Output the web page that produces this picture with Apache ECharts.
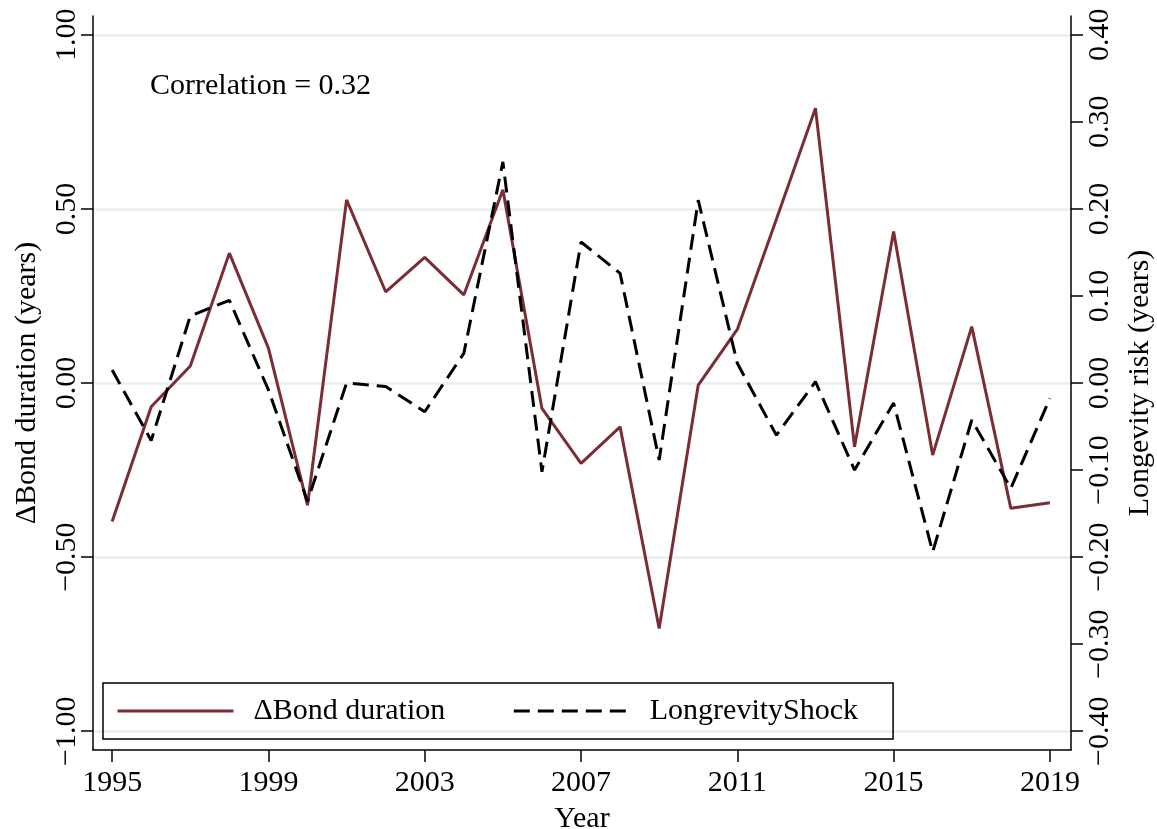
<!DOCTYPE html>
<html lang="en">
<head>
<meta charset="UTF-8">
<title>Bond duration vs longevity shock</title>
<script src="https://cdn.jsdelivr.net/npm/echarts@6/dist/echarts.min.js"></script>
<style>
  html, body { margin: 0; padding: 0; background: #fff; }
  #chart { width: 1157px; height: 829px; }
</style>
</head>
<body>
<div id="chart"></div>
<script>
// values
var years = [1995, 1996, 1997, 1998, 1999, 2000, 2001, 2002, 2003, 2004, 2005, 2006,
             2007, 2008, 2009, 2010, 2011, 2012, 2013, 2014, 2015, 2016, 2017, 2018, 2019];
var bondDuration = [-0.398, -0.068, 0.049, 0.373, 0.10, -0.351, 0.526, 0.262, 0.361, 0.253, 0.555, -0.073,
                    -0.231, -0.126, -0.705, -0.006, 0.154, 0.47, 0.789, -0.183, 0.435, -0.207, 0.162, -0.36, -0.344];
var longevityShock = [0.015, -0.066, 0.077, 0.095, -0.008, -0.136, 0.0, -0.004, -0.033, 0.034, 0.254, -0.102,
                      0.162, 0.126, -0.0885, 0.210, 0.0226, -0.06, 0.0015, -0.10, -0.023, -0.194, -0.0425, -0.121, -0.0176];
var xTicks = [1995, 1999, 2003, 2007, 2011, 2015, 2019];
var leftTicks = [-1, -0.5, 0, 0.5, 1];
var rightTicks = [-0.4, -0.3, -0.2, -0.1, 0, 0.1, 0.2, 0.3, 0.4];

var font = 'Liberation Serif';

function pairs(xs, ys) {
  var res = [];
  for (var i = 0; i < xs.length; i++) res.push([xs[i], ys[i]]);
  return res;
}
function fmt(v) {
  var s = Math.abs(v).toFixed(2);
  return v < -1e-9 ? '\u2212' + s : s;
}

var chart = echarts.init(document.getElementById('chart'));

var option = {
  animation: false,
  title: {
    text: 'Correlation = 0.32',
    left: 150,
    top: 71,
    padding: 0,
    textStyle: { fontFamily: font, fontSize: 30, fontWeight: 'normal', color: '#000' }
  },
  grid: { left: 93, right: 86, top: 16, bottom: 79, outerBoundsMode: 'none', containLabel: false },
  legend: {
    left: 103,
    top: 683,
    padding: [13, 35, 13, 13],
    itemWidth: 116,
    itemHeight: 30,
    itemGap: 67,
    borderColor: '#000',
    borderWidth: 1.5,
    itemStyle: { opacity: 0 },
    lineStyle: { width: 3 },
    textStyle: { fontFamily: font, fontSize: 30, color: '#000', padding: [0, 0, 0, 15] },
    data: ['\u0394Bond duration', 'LongrevityShock']
  },
  xAxis: {
    type: 'value',
    min: 1994.51,
    max: 2019.54,
    name: 'Year',
    nameLocation: 'middle',
    nameGap: 54,
    nameTextStyle: { fontFamily: font, fontSize: 30, color: '#000' },
    axisLine: { onZero: false, lineStyle: { color: '#000', width: 1.5 } },
    axisTick: { customValues: xTicks, length: 12, lineStyle: { color: '#000', width: 1.5 } },
    axisLabel: {
      customValues: xTicks,
      formatter: function (v) { return String(v); },
      fontFamily: font, fontSize: 30, color: '#000', margin: 18
    },
    splitLine: { show: false }
  },
  yAxis: [
    {
      type: 'value',
      position: 'left',
      min: -1.054,
      max: 1.054,
      name: '\u0394Bond duration (years)',
      nameLocation: 'middle',
      nameRotate: 90,
      nameGap: 51,
      nameTextStyle: { fontFamily: font, fontSize: 30, color: '#000' },
      axisLine: { show: true, onZero: false, lineStyle: { color: '#000', width: 1.5 } },
      axisTick: { show: true, customValues: leftTicks, length: 12, lineStyle: { color: '#000', width: 1.5 } },
      axisLabel: { customValues: leftTicks, rotate: 90, formatter: fmt, fontFamily: font, fontSize: 30, color: '#000', margin: 11 },
      splitLine: { show: true, lineStyle: { color: '#e6eff2', width: 2.5 } }
    },
    {
      type: 'value',
      position: 'right',
      min: -0.4216,
      max: 0.4216,
      name: 'Longevity risk (years)',
      nameLocation: 'middle',
      nameRotate: 90,
      nameGap: 54,
      nameTextStyle: { fontFamily: font, fontSize: 30, color: '#000' },
      axisLine: { show: true, onZero: false, lineStyle: { color: '#000', width: 1.5 } },
      axisTick: { show: true, customValues: rightTicks, length: 12, lineStyle: { color: '#000', width: 1.5 } },
      axisLabel: { customValues: rightTicks, rotate: 90, formatter: fmt, fontFamily: font, fontSize: 30, color: '#000', margin: 14 },
      splitLine: { show: false }
    }
  ],
  series: [
    {
      name: '\u0394Bond duration',
      type: 'line',
      yAxisIndex: 0,
      symbol: 'none',
      data: pairs(years, bondDuration),
      lineStyle: { color: '#7b2d35', width: 3 },
      itemStyle: { color: '#7b2d35' },
      z: 3
    },
    {
      name: 'LongrevityShock',
      type: 'line',
      yAxisIndex: 1,
      symbol: 'none',
      data: pairs(years, longevityShock),
      lineStyle: { color: '#000', width: 3, type: [16, 8] },
      itemStyle: { color: '#000' },
      z: 4
    }
  ]
};
chart.setOption(option);
</script>
</body>
</html>
